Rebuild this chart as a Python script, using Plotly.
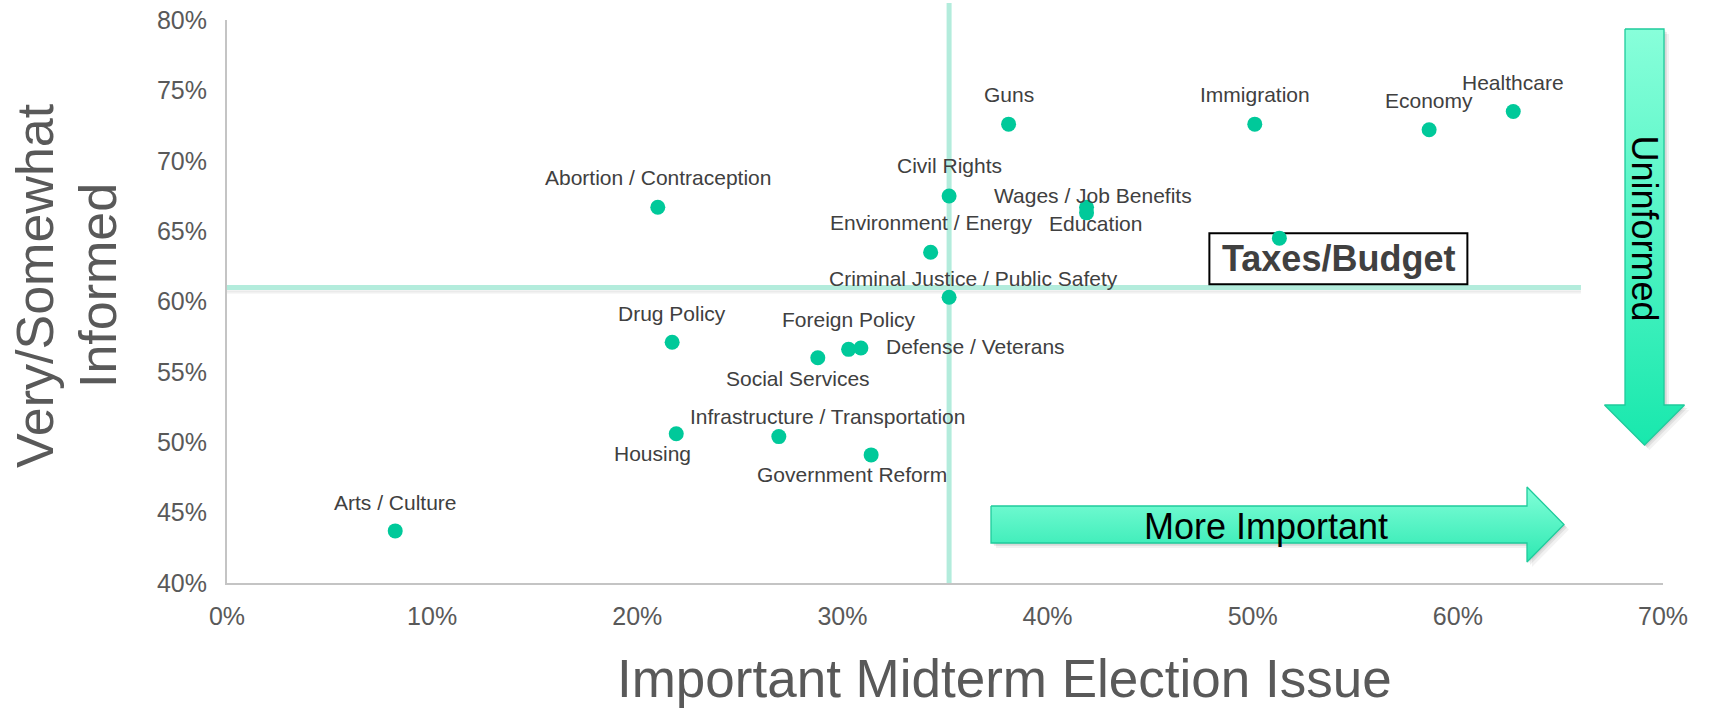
import plotly.graph_objects as go

# ---- data -------------------------------------------------------------
issues = [
    "Arts / Culture", "Abortion / Contraception", "Drug Policy", "Housing",
    "Infrastructure / Transportation", "Social Services", "Foreign Policy",
    "Defense / Veterans", "Government Reform", "Environment / Energy",
    "Civil Rights", "Criminal Justice / Public Safety", "Guns",
    "Wages / Job Benefits", "Education", "Immigration", "Taxes/Budget",
    "Economy", "Healthcare",
]
importance = [0.082, 0.210, 0.217, 0.219, 0.269, 0.288, 0.303, 0.309, 0.314,
              0.343, 0.352, 0.352, 0.381, 0.419, 0.419, 0.501, 0.513, 0.586,
              0.627]
informed = [0.437, 0.667, 0.571, 0.506, 0.504, 0.560, 0.566, 0.567, 0.491,
            0.635, 0.675, 0.603, 0.726, 0.667, 0.663, 0.726, 0.645, 0.722,
            0.735]

# quadrant dividers
importance_cut = 0.352
informed_cut = 0.61
informed_cut_end = 0.66

x_ticks = [0, 0.1, 0.2, 0.3, 0.4, 0.5, 0.6, 0.7]
y_ticks = [0.40, 0.45, 0.50, 0.55, 0.60, 0.65, 0.70, 0.75, 0.80]

# label placement (pixel offsets from each point)
label_offsets = {
    "Arts / Culture": (0, 28),
    "Abortion / Contraception": (0, 30),
    "Drug Policy": (0, 29),
    "Housing": (-24, -20),
    "Infrastructure / Transportation": (49, 20),
    "Social Services": (-20, -21),
    "Foreign Policy": (0, 30),
    "Defense / Veterans": (115, 1),
    "Government Reform": (-19, -20),
    "Environment / Energy": (0, 30),
    "Civil Rights": (0, 30),
    "Criminal Justice / Public Safety": (24, 19),
    "Guns": (0, 30),
    "Wages / Job Benefits": (6, 12),
    "Education": (9, -11),
    "Immigration": (0, 30),
    "Taxes/Budget": (59, -20.5),
    "Economy": (0, 29),
    "Healthcare": (0, 29),
}
highlight = "Taxes/Budget"
highlight_box = (-70, 188, -46, 5)   # left, right, bottom, top (px from point)

# ---- page geometry ----------------------------------------------------
W, H = 1709, 709
PL, PR, PT, PB = 227, 1663, 20, 583   # plot-area edges in pixels

FONT = "Liberation Sans, Arial, Helvetica, sans-serif"
GREY = "#595959"
LABEL = "#404040"
DOT = "#00c99a"
DIVIDER = "#b3ecdc"

fig = go.Figure()

# ---- decorative arrows on a full-page pixel overlay -------------------
def arrow_down(cx, half_shaft, half_head, top, head_base, tip):
    xs = [cx - half_shaft, cx + half_shaft, cx + half_shaft, cx + half_head,
          cx, cx - half_head, cx - half_shaft, cx - half_shaft]
    ys = [top, top, head_base, head_base, tip, head_base, head_base, top]
    return xs, ys


def arrow_right(cy, half_shaft, half_head, left, head_base, tip):
    xs = [left, head_base, head_base, tip, head_base, head_base, left, left]
    ys = [cy - half_shaft, cy - half_shaft, cy - half_head, cy,
          cy + half_head, cy + half_shaft, cy + half_shaft, cy - half_shaft]
    return xs, ys


arrows = [
    (arrow_down(1644.5, 19.5, 40, 29, 405, 445), "#88ffda", "#18e8ad"),
    (arrow_right(524.5, 18.5, 37.5, 991, 1527, 1564), "#82ffd8", "#2de8b2"),
]

for (xs, ys), c_top, c_bottom in arrows:
    for dx, dy, a in [(5, 5, 0.05), (3, 3, 0.07), (1.5, 1.5, 0.07)]:
        fig.add_trace(go.Scatter(
            x=[v + dx for v in xs], y=[v + dy for v in ys],
            xaxis="x2", yaxis="y2", mode="lines", fill="toself",
            fillcolor=f"rgba(0,0,0,{a})", line=dict(width=0),
            hoverinfo="skip", showlegend=False))
    fig.add_trace(go.Scatter(
        x=xs, y=ys, xaxis="x2", yaxis="y2", mode="lines", fill="toself",
        fillgradient=dict(type="vertical",
                          colorscale=[[0, c_bottom], [1, c_top]]),
        line=dict(color="#1fcb9c", width=1.3),
        hoverinfo="skip", showlegend=False))

# ---- quadrant divider lines ------------------------------------------
fig.add_shape(type="line", layer="below", xref="x", yref="y2",
              x0=importance_cut, x1=importance_cut, y0=3, y1=PB + 1,
              line=dict(color=DIVIDER, width=5))
# soft shadow under the horizontal divider
for off, a in [(-5, 0.03), (-3.5, 0.05)]:
    fig.add_shape(type="line", layer="below", xref="x", yref="y",
                  ysizemode="pixel", yanchor=informed_cut, y0=off, y1=off,
                  x0=0, x1=informed_cut_end,
                  line=dict(color=f"rgba(0,0,0,{a})", width=3))
fig.add_shape(type="line", layer="below", xref="x", yref="y",
              x0=0, x1=informed_cut_end, y0=informed_cut, y1=informed_cut,
              line=dict(color=DIVIDER, width=5))

# framed callout behind the highlighted point
hi = issues.index(highlight)
bl, br, bb, bt = highlight_box
fig.add_shape(type="rect", layer="below",
              xref="x", xsizemode="pixel", xanchor=importance[hi], x0=bl, x1=br,
              yref="y", ysizemode="pixel", yanchor=informed[hi], y0=bb, y1=bt,
              fillcolor="white", line=dict(color="black", width=2))

# ---- scatter points ---------------------------------------------------
fig.add_trace(go.Scatter(
    x=importance, y=informed, mode="markers",
    marker=dict(size=15, color=DOT, line=dict(width=0)),
    text=issues, hoverinfo="text", showlegend=False))

# ---- point labels -----------------------------------------------------
for name, xv, yv in zip(issues, importance, informed):
    dx, dy = label_offsets[name]
    if name == highlight:
        fig.add_annotation(
            x=xv, y=yv, xref="x", yref="y", showarrow=False,
            text=f"<b>{name}</b>", xshift=dx, yshift=dy,
            font=dict(family=FONT, size=36, color=LABEL))
    else:
        fig.add_annotation(
            x=xv, y=yv, xref="x", yref="y", showarrow=False,
            text=name, xshift=dx, yshift=dy,
            font=dict(family=FONT, size=21, color=LABEL))

# ---- arrow captions ---------------------------------------------------
fig.add_annotation(x=1644.5, y=228, xref="x2", yref="y2", showarrow=False,
                   text="Uninformed", textangle=90,
                   font=dict(family=FONT, size=36, color="black"))
fig.add_annotation(x=1266, y=526, xref="x2", yref="y2", showarrow=False,
                   text="More Important",
                   font=dict(family=FONT, size=36, color="black"))

# ---- axis titles ------------------------------------------------------
fig.add_annotation(x=1004, y=678, xref="x2", yref="y2", showarrow=False,
                   text="Important Midterm Election Issue",
                   font=dict(family=FONT, size=53, color=GREY))
fig.add_annotation(x=35, y=286, xref="x2", yref="y2", showarrow=False,
                   text="Very/Somewhat", textangle=-90,
                   font=dict(family=FONT, size=52, color=GREY))
fig.add_annotation(x=98, y=286, xref="x2", yref="y2", showarrow=False,
                   text="Informed", textangle=-90,
                   font=dict(family=FONT, size=52, color=GREY))

# ---- layout -----------------------------------------------------------
fig.update_layout(
    width=W, height=H,
    margin=dict(l=0, r=0, t=0, b=0, pad=0),
    paper_bgcolor="white", plot_bgcolor="rgba(0,0,0,0)",
    font=dict(family=FONT, color=GREY),
    showlegend=False,
    xaxis=dict(domain=[PL / W, PR / W], range=[0, 0.7],
               tickvals=x_ticks, tickformat=".0%",
               showgrid=False, zeroline=False,
               showline=True, linecolor="#c4c4c4", linewidth=2,
               ticks="", ticklabelstandoff=10,
               tickfont=dict(family=FONT, size=25, color=GREY),
               automargin=False, fixedrange=True),
    yaxis=dict(domain=[1 - PB / H, 1 - PT / H], range=[0.4, 0.8],
               tickvals=y_ticks, tickformat=".0%",
               showgrid=False, zeroline=False,
               showline=True, linecolor="#c4c4c4", linewidth=2,
               ticks="", ticklabelstandoff=13,
               tickfont=dict(family=FONT, size=25, color=GREY),
               automargin=False, fixedrange=True),
    xaxis2=dict(domain=[0, 1], range=[0, W], anchor="y2", visible=False,
                fixedrange=True),
    yaxis2=dict(domain=[0, 1], range=[H, 0], anchor="x2", visible=False,
                fixedrange=True),
)

fig.write_html("out.html")
